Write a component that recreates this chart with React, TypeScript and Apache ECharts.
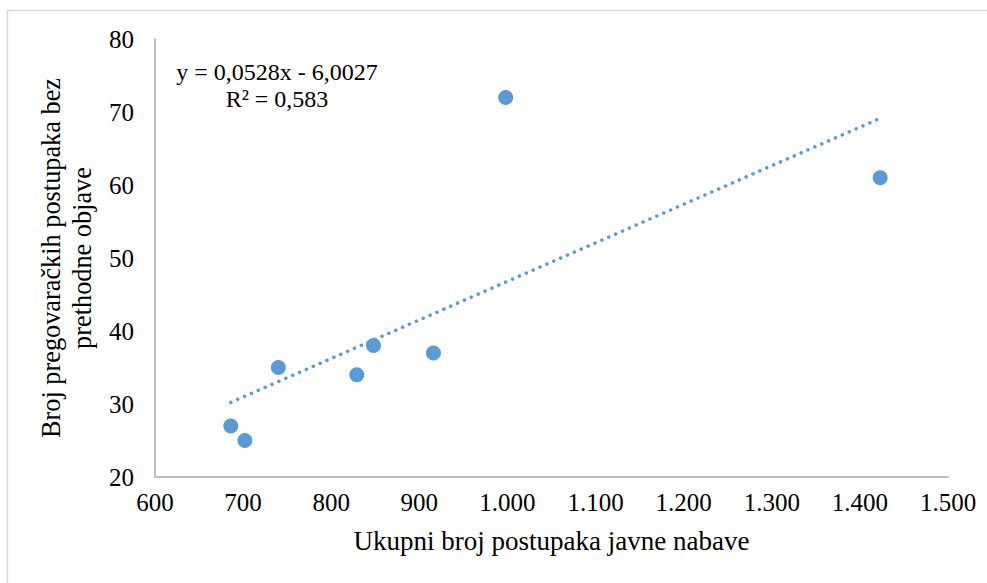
import React, { useEffect, useRef } from "react";
import * as echarts from "echarts";

const totalProcedures: number[] = [686, 702, 740, 829, 848, 916, 998, 1423];
const negotiatedProcedures: number[] = [27, 25, 35, 34, 38, 37, 72, 61];
const trendSlope = 0.0528;
const trendIntercept = -6.0027;
const rSquaredText = "R² = 0,583";
const equationText = "y = 0,0528x - 6,0027";
const xTitle = "Ukupni broj postupaka javne nabave";
const yTitle = "Broj pregovaračkih postupaka bez\nprethodne objave";

const FONT = "Liberation Serif";
const BLUE = "#5B9BD5";

function fmtThousands(v: number): string {
  const s = String(Math.round(v));
  return s.replace(/\B(?=(\d{3})+(?!\d))/g, ".");
}

export default function App() {
  const ref = useRef<HTMLDivElement>(null);
  useEffect(() => {
    if (!ref.current) return;
    const chart = echarts.init(ref.current, undefined, { renderer: "svg" });
    const points = totalProcedures.map((x, i) => [x, negotiatedProcedures[i]]);
    const xMin = Math.min(...totalProcedures);
    const xMax = Math.max(...totalProcedures);
    const trend = [
      [xMin, trendSlope * xMin + trendIntercept],
      [xMax, trendSlope * xMax + trendIntercept],
    ];
    chart.setOption({
      animation: false,
      backgroundColor: "#ffffff",
      textStyle: { fontFamily: FONT },
      grid: { left: 155, top: 39, right: 39, bottom: 106, containLabel: false },
      graphic: [
        {
          type: "rect",
          shape: { x: 7.5, y: 10.5, width: 1200, height: 800 },
          style: { fill: "none", stroke: "#d9d9d9", lineWidth: 1.5 },
          silent: true,
          z: -10,
        },
        {
          type: "text",
          x: 277,
          y: 72,
          style: { text: equationText, fontSize: 24, fontFamily: FONT, fill: "#000", align: "center", verticalAlign: "middle" },
        },
        {
          type: "text",
          x: 277,
          y: 99,
          style: { text: rSquaredText, fontSize: 24, fontFamily: FONT, fill: "#000", align: "center", verticalAlign: "middle" },
        },
      ],
      xAxis: {
        type: "value",
        min: 600,
        max: 1500,
        interval: 100,
        name: xTitle,
        nameLocation: "middle",
        nameGap: 50,
        nameTextStyle: { fontSize: 27, color: "#000", fontFamily: FONT, lineHeight: 27 },
        axisLine: { show: true, lineStyle: { color: "#bfbfbf", width: 2 } },
        axisTick: { show: false },
        splitLine: { show: false },
        axisLabel: { fontSize: 25, color: "#000", fontFamily: FONT, margin: 13, formatter: (v: number) => fmtThousands(v) },
      },
      yAxis: {
        type: "value",
        min: 20,
        max: 80,
        interval: 10,
        name: yTitle,
        nameLocation: "middle",
        nameRotate: 90,
        nameGap: 50,
        nameTextStyle: { fontSize: 26.3, color: "#000", fontFamily: FONT, lineHeight: 31, align: "center" },
        axisLine: { show: true, lineStyle: { color: "#bfbfbf", width: 2 } },
        axisTick: { show: false },
        splitLine: { show: false },
        axisLabel: { fontSize: 25, color: "#000", fontFamily: FONT, margin: 21 },
      },
      series: [
        {
          type: "line",
          data: trend,
          symbol: "none",
          lineStyle: { color: BLUE, width: 3.5, type: [0.1, 7.4], cap: "round" },
          z: 1,
        },
        {
          type: "scatter",
          data: points,
          symbol: "circle",
          symbolSize: 15,
          itemStyle: { color: BLUE, opacity: 1 },
          z: 2,
        },
      ],
    });
    return () => chart.dispose();
  }, []);
  return (
    <div ref={ref} style={{ position: "fixed", left: 0, top: 0, width: 987, height: 583, background: "#fff" }} />
  );
}
